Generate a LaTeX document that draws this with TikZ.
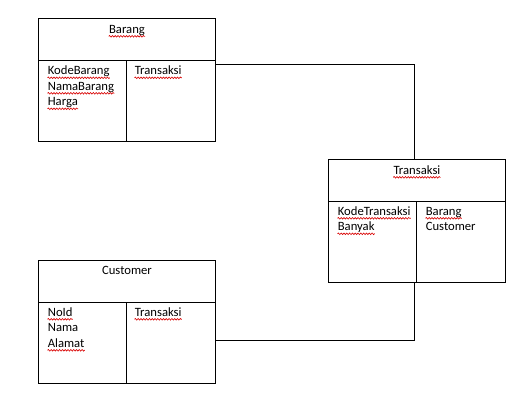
\documentclass[tikz,border=0pt]{standalone}
\usepackage{fontspec}
\setmainfont{Carlito}
\usetikzlibrary{positioning,decorations.pathmorphing}

\begin{document}
\begin{tikzpicture}[
          x=0.02cm, y=-0.02cm, font=\fontsize{7.2}{8.8}\selectfont,
          hdr/.style={rectangle, draw=black, line width=0.55pt, anchor=north west,
              minimum width=3.54cm, minimum height=0.84cm, inner sep=0pt, outer sep=0pt},
          col/.style={rectangle, draw=black, line width=0.55pt, anchor=north west,
              minimum width=1.76cm, minimum height=1.62cm, inner sep=0pt, outer sep=0pt},
          ttl/.style={inner sep=0pt, anchor=base},
          word/.style={inner sep=0pt, anchor=base west},
          wave/.style={draw=red!85!black, line width=0.35pt, decorate,
              decoration={snake, amplitude=0.45pt, segment length=1.6pt}},
          spell/.style={append after command={([yshift=-1.6pt]\tikzlastnode.base west)
              edge[wave] ([yshift=-1.6pt]\tikzlastnode.base east)}},
          conn/.style={-, line width=0.55pt}
      ]
      \fill[white] (0,0) rectangle (525,400);
      \useasboundingbox (0,0) rectangle (525,400);
      \node[hdr] (barang)     at (38.5,18.5)   {};
      \node[col] (barangA)    at (barang.south west)    {};
      \node[col, minimum width=1.78cm] (barangB)    at (barangA.north east)   {};
      \node[hdr] (transaksi)  at (328.5,159.5) {};
      \node[col] (transaksiA) at (transaksi.south west) {};
      \node[col, minimum width=1.78cm] (transaksiB) at (transaksiA.north east) {};
      \node[hdr] (customer)   at (38.5,260.5)  {};
      \node[col] (customerA)  at (customer.south west)  {};
      \node[col, minimum width=1.78cm] (customerB)  at (customerA.north east) {};
      \node[ttl, spell] (barangT)    at ([yshift=-0.30cm]barang.north)    {Barang};
      \node[ttl, spell] (transaksiT) at ([yshift=-0.30cm]transaksi.north) {Transaksi};
      \node[ttl]        (customerT)  at ([yshift=-0.27cm]customer.north)  {Customer};
      \node[word, spell] (kodeBarang)    at ([shift={(0.18cm,-0.29cm)}]barangA.north west) {KodeBarang};
      \node[word, spell] (namaBarang)    at ([yshift=-0.31cm]kodeBarang.base west)         {NamaBarang};
      \node[word, spell] (harga)         at ([yshift=-0.31cm]namaBarang.base west)         {Harga};
      \node[word, spell] (barangTrans)   at ([shift={(0.16cm,-0.29cm)}]barangB.north west) {Transaksi};
      \node[word, spell] (kodeTransaksi) at ([shift={(0.18cm,-0.28cm)}]transaksiA.north west) {KodeTransaksi};
      \node[word, spell] (banyak)        at ([yshift=-0.31cm]kodeTransaksi.base west)         {Banyak};
      \node[word, spell] (transBarang)   at ([shift={(0.18cm,-0.28cm)}]transaksiB.north west) {Barang};
      \node[word]        (transCustomer) at ([yshift=-0.31cm]transBarang.base west)           {Customer};
      \node[word, spell] (noId)          at ([shift={(0.18cm,-0.28cm)}]customerA.north west) {NoId};
      \node[word]        (nama)          at ([yshift=-0.31cm]noId.base west)                 {Nama};
      \node[word, spell] (alamat)        at ([yshift=-0.31cm]nama.base west)                 {Alamat};
      \node[word, spell] (customerTrans) at ([shift={(0.16cm,-0.28cm)}]customerB.north west) {Transaksi};
      \draw[conn] ([yshift=-0.08cm]barangB.north east) -| ([xshift=-0.05cm]transaksi.north);
      \draw[conn] ([xshift=-0.05cm]transaksi.north |- transaksiA.south) |- ([yshift=0.05cm]customerB.east);
\end{tikzpicture}
\end{document}
